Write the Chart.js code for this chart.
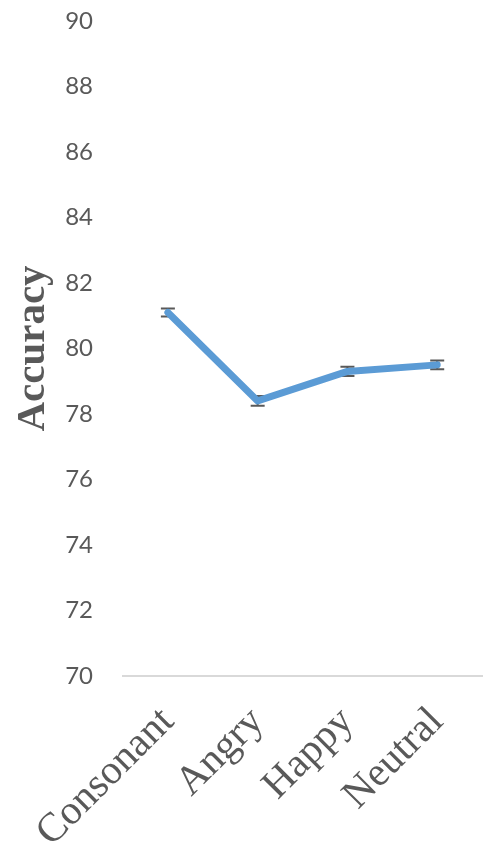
<!DOCTYPE html>
<html>
<head>
<meta charset="utf-8">
<script src="https://cdn.jsdelivr.net/npm/chart.js@4/dist/chart.umd.min.js"></script>
<style>
  html, body { margin: 0; padding: 0; background: #fff; }
  #wrap { width: 486px; height: 848px; position: relative; }
</style>
</head>
<body>
<div id="wrap"><canvas id="accuracyChart"></canvas></div>
<script>
const categories = ['Consonant', 'Angry', 'Happy', 'Neutral'];
const accuracy = [81.1, 78.4, 79.3, 79.5];
const errors = [0.12, 0.15, 0.14, 0.13];
const yTicks = [70, 72, 74, 76, 78, 80, 82, 84, 86, 88, 90];

const textGray = '#595959';

// error bars, drawn under the line like in Excel
const errorBars = {
  id: 'errorBars',
  beforeDatasetsDraw(chart) {
    const meta = chart.getDatasetMeta(0);
    const yScale = chart.scales.y;
    const ctx = chart.ctx;
    ctx.save();
    ctx.strokeStyle = textGray;
    ctx.lineWidth = 2;
    meta.data.forEach((point, i) => {
      const top = yScale.getPixelForValue(accuracy[i] + errors[i]);
      const bottom = yScale.getPixelForValue(accuracy[i] - errors[i]);
      ctx.beginPath();
      ctx.moveTo(point.x, top);
      ctx.lineTo(point.x, bottom);
      ctx.moveTo(point.x - 7, top);
      ctx.lineTo(point.x + 7, top);
      ctx.moveTo(point.x - 7, bottom);
      ctx.lineTo(point.x + 7, bottom);
      ctx.stroke();
    });
    ctx.restore();
  },
};

new Chart(document.querySelector('#accuracyChart'), {
  type: 'line',
  data: {
    labels: categories,
    datasets: [
      {
        label: 'Accuracy',
        data: accuracy,
        borderColor: '#5b9bd5',
        borderWidth: 7,
        borderJoinStyle: 'round',
        borderCapStyle: 'round',
        pointRadius: 0,
        tension: 0,
      },
    ],
  },
  plugins: [errorBars],
  options: {
    responsive: true,
    maintainAspectRatio: false,
    animation: false,
    layout: {
      padding: { top: 21, right: 0, left: 0, bottom: 0 },
    },
    plugins: {
      legend: { display: false },
      tooltip: { enabled: false },
    },
    scales: {
      x: {
        offset: true,
        afterFit(scale) {
          scale.height = 172;
        },
        grid: { display: false },
        border: { display: true, color: '#d9d9d9', width: 2 },
        ticks: {
          color: textGray,
          padding: 14,
          minRotation: 45,
          maxRotation: 45,
          font: { family: '"Liberation Serif", "Times New Roman", serif', size: 41 },
        },
      },
      y: {
        min: 70,
        max: 90,
        afterFit(scale) {
          scale.width = 123;
          // tick padding otherwise pushes the plot area down
          scale.paddingTop = 0;
          scale.paddingBottom = 0;
        },
        afterBuildTicks(scale) {
          scale.ticks = yTicks.map((v) => ({ value: v }));
        },
        grid: { display: false, drawTicks: false },
        border: { display: false },
        ticks: {
          color: textGray,
          padding: 30,
          font: { family: 'Lato, "Open Sans", sans-serif', size: 24 },
        },
        title: {
          display: true,
          text: 'Accuracy',
          color: textGray,
          padding: { top: 9, bottom: 0 },
          font: { family: '"Liberation Serif", "Times New Roman", serif', size: 41, weight: 'bold' },
        },
      },
    },
  },
});
</script>
</body>
</html>
